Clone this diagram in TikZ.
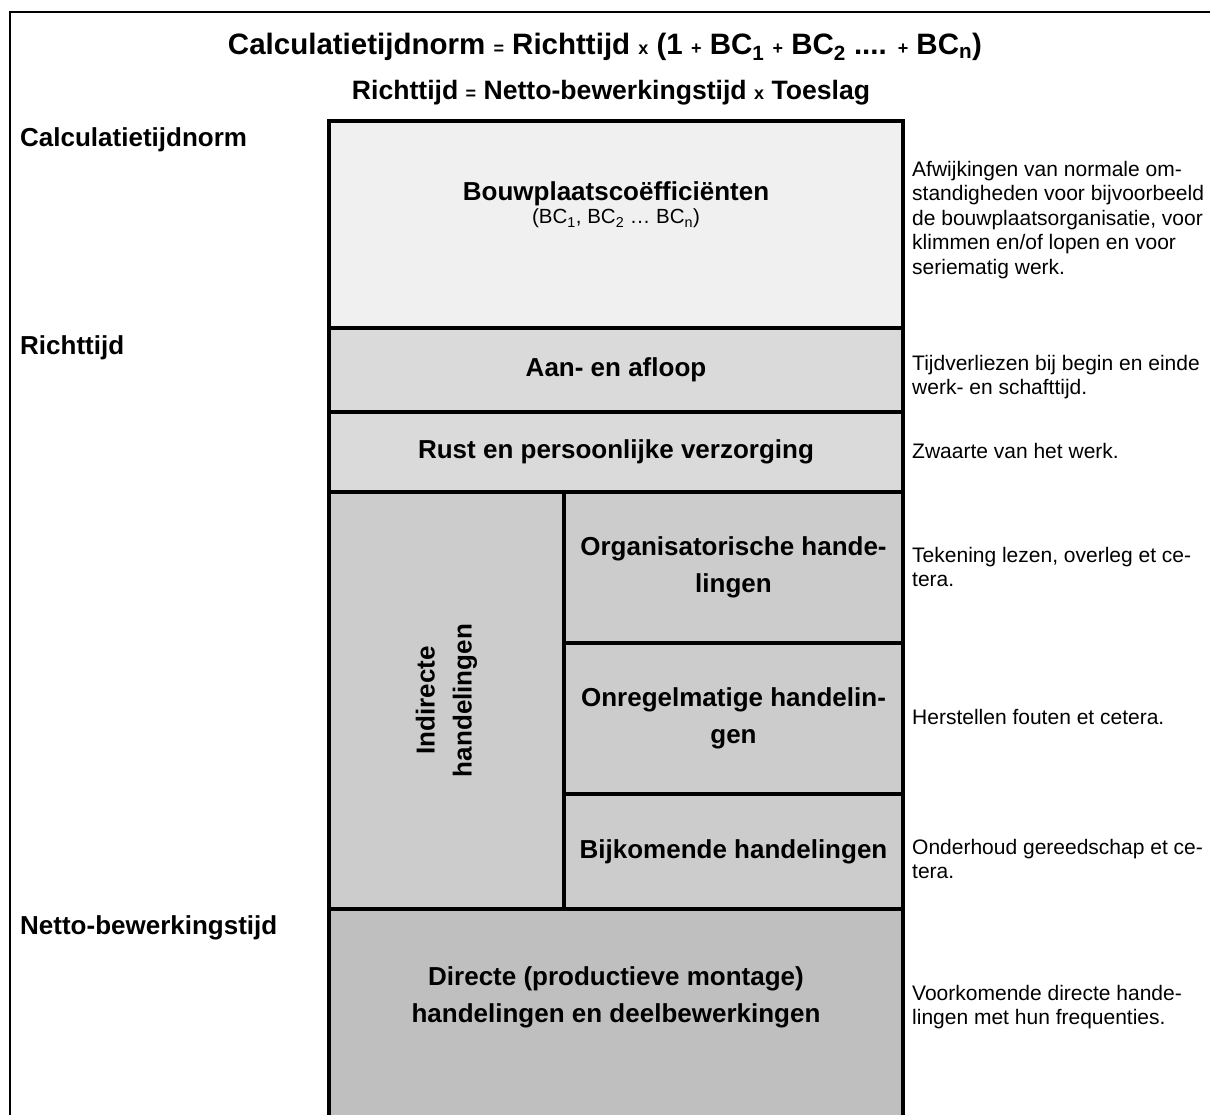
\documentclass[tikz,border=0pt]{standalone}
\usepackage{fontspec}
\setmainfont{Liberation Sans}
\definecolor{bcgray}{gray}{0.94}
\definecolor{toegray}{gray}{0.855}
\definecolor{indgray}{gray}{0.80}
\definecolor{netgray}{gray}{0.75}
\newcommand{\klein}[1]{{\fontsize{18}{18}\selectfont #1}}

\begin{document}
\begin{tikzpicture}[x=1pt,y=-1pt,
    blok/.style={draw, line width=4pt, inner sep=0pt, align=center, font=\fontsize{26}{37}\selectfont\bfseries},
    uitleg/.style={anchor=west, align=left, inner sep=0pt, font=\fontsize{21}{24.5}\selectfont},
    soort/.style={anchor=west, inner sep=0pt, font=\fontsize{26}{30}\selectfont\bfseries}]

    \useasboundingbox (0,0) rectangle (1210,1115);
    \clip (0,0) rectangle (1210,1115);

    % kader
    \draw[line width=2.5pt] (10,1130) -- (10,12) -- (1220,12);

    % formules
    \node[inner sep=0pt, font=\fontsize{29.5}{30}\selectfont\bfseries] (form1) at (605,47)
        {Calculatietijdnorm \klein{=} Richttijd \klein{x} (1 \klein{+} BC\textsubscript{1} \klein{+} BC\textsubscript{2} .... \klein{+} BC\textsubscript{n})};
    \node[inner sep=0pt, font=\fontsize{26.6}{30}\selectfont\bfseries] (form2) at (611,93)
        {Richttijd \klein{=} Netto-bewerkingstijd \klein{x} Toeslag};

    % kolom
    \node[blok, fill=bcgray, minimum width=574pt, minimum height=207pt] (bouw) at (616,224.5) {};
    \node[align=center, inner sep=0pt] (bouwtxt) at (616,205)
        {{\fontsize{26}{30}\selectfont\bfseries Bouwplaatsco\"efficiënten}\\[2pt]
         {\fontsize{20.5}{22}\selectfont (BC\textsubscript{1}, BC\textsubscript{2} … BC\textsubscript{n})}};
    \node[blok, fill=toegray, minimum width=574pt, minimum height=84pt] (aan) at (616,370) {Aan- en afloop};
    \node[blok, fill=toegray, minimum width=574pt, minimum height=80pt] (rust) at (616,452) {Rust en persoonlijke verzorging};
    \node[blok, fill=indgray, minimum width=235pt, minimum height=417pt] (indirect) at (446.5,700.5) {};
    \node[rotate=90, align=center, inner sep=0pt, font=\fontsize{26}{37}\selectfont\bfseries] (indtxt) at (446.5,700.5) {Indirecte\\handelingen};
    \node[blok, fill=indgray, minimum width=339pt, minimum height=151pt] (org) at (733.5,567.5) {Organisatorische hande-\\lingen};
    \node[blok, fill=indgray, minimum width=339pt, minimum height=151pt] (onr) at (733.5,718.5) {Onregelmatige handelin-\\gen};
    \node[blok, fill=indgray, minimum width=339pt, minimum height=115pt] (bijk) at (733.5,851.5) {Bijkomende handelingen};
    \node[blok, fill=netgray, minimum width=574pt, minimum height=240pt] (direct) at (616,1029) {};
    \node[align=center, inner sep=0pt, font=\fontsize{26}{37}\selectfont\bfseries] (directtxt) at (616,997)
        {Directe (productieve montage)\\handelingen en deelbewerkingen};

    % soorten tijd
    \node[soort] (calc) at (20,140) {Calculatietijdnorm};
    \node[soort] (richt) at (20,348) {Richttijd};
    \node[soort] (netto) at (20,928) {Netto-bewerkingstijd};

    % toelichting
    \node[uitleg] (bouwuit) at (912,220) {Afwijkingen van normale om-\\standigheden voor bijvoorbeeld\\de bouwplaatsorganisatie, voor\\klimmen en/of lopen en voor\\seriematig werk.};
    \node[uitleg] (aanuit) at (912,377) {Tijdverliezen bij begin en einde\\werk- en schafttijd.};
    \node[uitleg] (rustuit) at (912,451) {Zwaarte van het werk.};
    \node[uitleg] (orguit) at (912,567) {Tekening lezen, overleg et ce-\\tera.};
    \node[uitleg] (onruit) at (912,717) {Herstellen fouten et cetera.};
    \node[uitleg] (bijkuit) at (912,859) {Onderhoud gereedschap et ce-\\tera.};
    \node[uitleg] (directuit) at (912,1007) {Voorkomende directe hande-\\lingen met hun frequenties.};
\end{tikzpicture}
\end{document}
